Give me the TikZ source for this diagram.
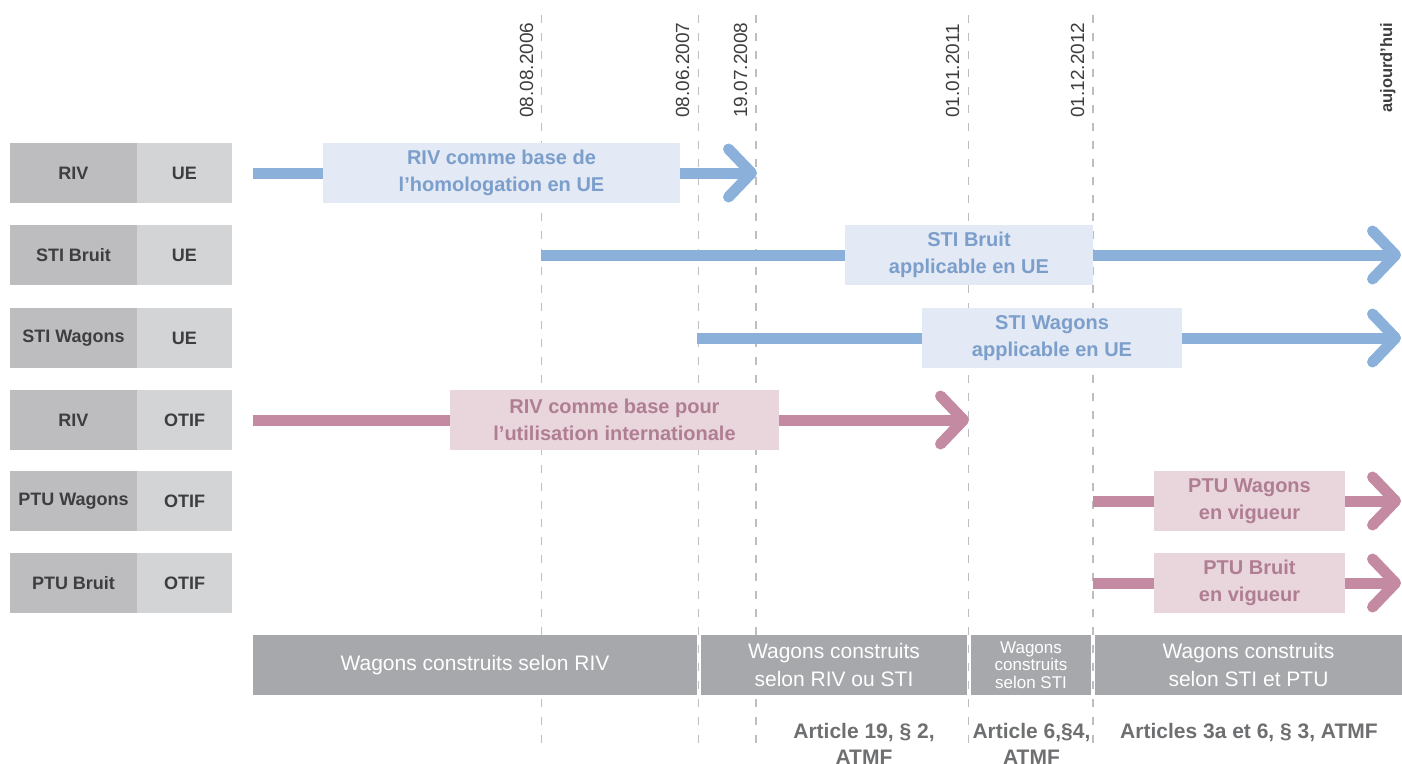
\documentclass[tikz,border=0pt]{standalone}
\usepackage{fontspec}
\setmainfont{Liberation Sans}
\usetikzlibrary{arrows.meta}
\definecolor{gdark}{HTML}{BDBDBF}
\definecolor{glight}{HTML}{D3D4D6}
\definecolor{gtext}{HTML}{3E3E40}
\definecolor{barfill}{HTML}{A7A8AB}
\definecolor{dashc}{HTML}{BEBEBE}
\definecolor{arttext}{HTML}{6E6F71}
\definecolor{bline}{HTML}{8BB0DA}
\definecolor{bfill}{HTML}{E3E9F5}
\definecolor{btext}{HTML}{7B9ECB}
\definecolor{pline}{HTML}{C48AA2}
\definecolor{pfill}{HTML}{E9D5DC}
\definecolor{ptext}{HTML}{B07E93}
\begin{document}
\begin{tikzpicture}[x=1pt,y=-1pt,
  leftA/.style={fill=gdark, minimum width=127pt, minimum height=60pt, inner sep=0pt, text=gtext, font=\bfseries\fontsize{18}{21}\selectfont},
  leftB/.style={fill=glight, minimum width=95pt, minimum height=60pt, inner sep=0pt, text=gtext, font=\bfseries\fontsize{18}{21}\selectfont},
  labbox/.style={minimum height=60pt, inner sep=0pt, align=center, font=\bfseries\fontsize{20}{27}\selectfont},
  bluebox/.style={labbox, fill=bfill, text=btext},
  pinkbox/.style={labbox, fill=pfill, text=ptext},
  tipb/.style={-{Straight Barb[length=23pt, width=48pt, round]}},
  blueline/.style={draw=bline, line width=11pt},
  pinkline/.style={draw=pline, line width=11pt},
  dateline/.style={draw=dashc, line width=1.8pt, dash pattern=on 8pt off 10pt},
  datelab/.style={rotate=90, anchor=base west, inner sep=0pt, text=gtext, font=\fontsize{19}{22}\selectfont},
  bar/.style={fill=barfill, minimum height=60pt, inner sep=0pt, text=white, align=center, font=\fontsize{21}{28}\selectfont},
  art/.style={anchor=north, inner sep=0pt, align=center, text=arttext, font=\bfseries\fontsize{21}{26}\selectfont}
]
\useasboundingbox (0,0) rectangle (1402,763);

% date lines
\coordinate (d1t) at (541.5,15); \coordinate (d1b) at (541.5,752);
\coordinate (d2t) at (698.5,15); \coordinate (d2b) at (698.5,752);
\coordinate (d3t) at (756,15);   \coordinate (d3b) at (756,752);
\coordinate (d4t) at (968.5,15); \coordinate (d4b) at (968.5,752);
\coordinate (d5t) at (1093,15);  \coordinate (d5b) at (1093,752);
\draw[dateline] (d1t) -- (d1b);
\draw[dateline] (d2t) -- (d2b);
\draw[dateline] (d3t) -- (d3b);
\draw[dateline] (d4t) -- (d4b);
\draw[dateline] (d5t) -- (d5b);

% date labels
\node[datelab] (t1) at (533,118) {08.08.2006};
\node[datelab] (t2) at (689,118) {08.06.2007};
\node[datelab] (t3) at (747,118) {19.07.2008};
\node[datelab] (t4) at (959,118) {01.01.2011};
\node[datelab] (t5) at (1084,118) {01.12.2012};
\node[datelab, font=\bfseries\fontsize{16.5}{20}\selectfont] (t6) at (1392,113) {aujourd’hui};

% left boxes
\node[leftA] (a1) at (73.5,173) {RIV};
\node[leftB] (b1) at (184.5,173) {UE};
\node[leftA] (a2) at (73.5,255) {STI Bruit};
\node[leftB] (b2) at (184.5,255) {UE};
\node[leftA] (a3) at (73.5,338) {STI Wagons};
\node[leftB] (b3) at (184.5,338) {UE};
\node[leftA] (a4) at (73.5,420) {RIV};
\node[leftB] (b4) at (184.5,420) {OTIF};
\node[leftA] (a5) at (73.5,501) {PTU Wagons};
\node[leftB] (b5) at (184.5,501) {OTIF};
\node[leftA] (a6) at (73.5,583) {PTU Bruit};
\node[leftB] (b6) at (184.5,583) {OTIF};

% row coordinates
\coordinate (s1) at (253,173);  \coordinate (e1) at (757,173);
\coordinate (s2) at (541,255);  \coordinate (e2) at (1401,255);
\coordinate (s3) at (697,338);  \coordinate (e3) at (1401,338);
\coordinate (s4) at (253,420);  \coordinate (e4) at (969,420);
\coordinate (s5) at (1093,501); \coordinate (e5) at (1401,501);
\coordinate (s6) at (1093,583); \coordinate (e6) at (1401,583);

% label boxes
\node[bluebox, minimum width=357pt] (l1) at (501.5,173) {RIV comme base de\\l’homologation en UE};
\node[bluebox, minimum width=248pt] (l2) at (969,255) {STI Bruit\\applicable en UE};
\node[bluebox, minimum width=260pt] (l3) at (1052,338) {STI Wagons\\applicable en UE};
\node[pinkbox, minimum width=329pt] (l4) at (614.5,420) {RIV comme base pour\\l’utilisation internationale};
\node[pinkbox, minimum width=191pt] (l5) at (1249.5,501) {PTU Wagons\\en vigueur};
\node[pinkbox, minimum width=191pt] (l6) at (1249.5,583) {PTU Bruit\\en vigueur};

% connectors
\draw[blueline] (s1) -- (l1.west);
\draw[blueline, tipb] (l1.east) -- (e1);
\draw[blueline] (s2) -- (l2.west);
\draw[blueline, tipb] (l2.east) -- (e2);
\draw[blueline] (s3) -- (l3.west);
\draw[blueline, tipb] (l3.east) -- (e3);
\draw[pinkline] (s4) -- (l4.west);
\draw[pinkline, tipb] (l4.east) -- (e4);
\draw[pinkline] (s5) -- (l5.west);
\draw[pinkline, tipb] (l5.east) -- (e5);
\draw[pinkline] (s6) -- (l6.west);
\draw[pinkline, tipb] (l6.east) -- (e6);

% bottom bars
\node[bar, minimum width=444pt] (w1) at (475,665) {Wagons construits selon RIV};
\node[bar, minimum width=266pt] (w2) at (834,665) {Wagons construits\\selon RIV ou STI};
\node[bar, minimum width=120pt, font=\fontsize{17}{17.5}\selectfont] (w3) at (1031,665) {Wagons\\construits\\selon STI};
\node[bar, minimum width=307pt] (w4) at (1248.5,665) {Wagons construits\\selon STI et PTU};

% articles
\node[art] (r1) at (864,723) {Article 19, § 2,\\ATMF};
\node[art] (r2) at (1031.5,723) {Article 6,§4,\\ATMF};
\node[art] (r3) at (1249,723) {Articles 3a et 6, § 3, ATMF};
\end{tikzpicture}
\end{document}
